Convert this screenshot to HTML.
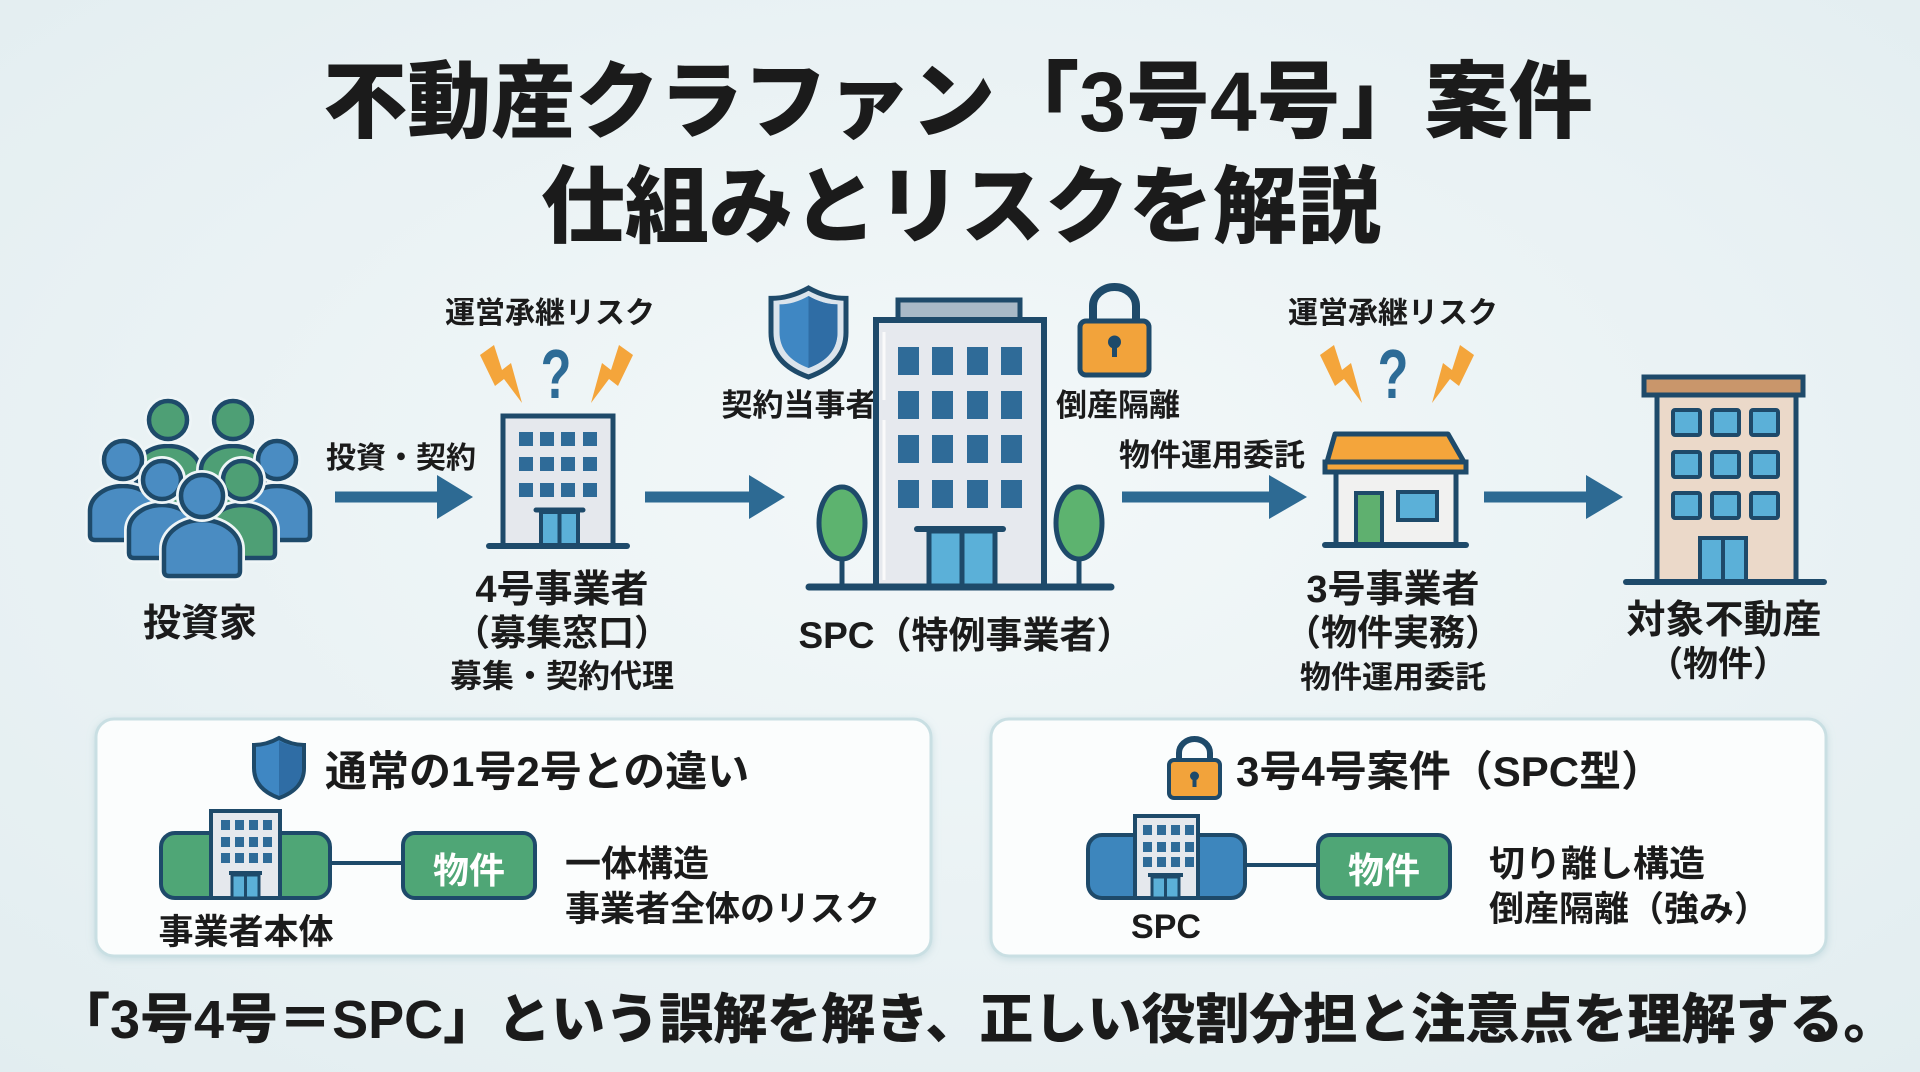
<!DOCTYPE html>
<html><head><meta charset="utf-8"><style>
html,body{margin:0;padding:0;width:1920px;height:1072px;overflow:hidden;background:#e9f2f4}
svg{display:block}
.t{font-family:"Liberation Sans","Noto Sans CJK JP",sans-serif;font-weight:700;fill:#1b1b1b}
.h{font-weight:900}
.m{text-anchor:middle}
</style></head><body>
<svg width="1920" height="1072" viewBox="0 0 1920 1072" xmlns="http://www.w3.org/2000/svg">
<defs>
<radialGradient id="bg" cx="50%" cy="45%" r="75%"><stop offset="0" stop-color="#f3f8f9"/><stop offset="1" stop-color="#e2edf0"/></radialGradient>
<filter id="sh" x="-5%" y="-10%" width="110%" height="125%"><feDropShadow dx="0" dy="2" stdDeviation="4" flood-color="#8fb9c2" flood-opacity="0.35"/></filter>
</defs>
<rect width="1920" height="1072" fill="url(#bg)"/>

<!-- Title -->
<text class="t h m" x="958" y="131" font-size="84">不動産クラファン「3号4号」案件</text>
<text class="t h m" x="961" y="236" font-size="84">仕組みとリスクを解説</text>

<!-- People icon -->
<g stroke-linejoin="round">
 <g><path d="M136,507 L136,470 A32,24 0 0 1 200,470 L200,507 Q200,512 195,512 L141,512 Q136,512 136,507 Z" fill="#4e9f75" stroke="#eef5f7" stroke-width="10"/><path d="M136,507 L136,470 A32,24 0 0 1 200,470 L200,507 Q200,512 195,512 L141,512 Q136,512 136,507 Z" fill="#4e9f75" stroke="#1e4a6a" stroke-width="4.5"/>
 <circle cx="168" cy="420" r="19" fill="#4e9f75" stroke="#eef5f7" stroke-width="10"/><circle cx="168" cy="420" r="19" fill="#4e9f75" stroke="#1e4a6a" stroke-width="4.5"/></g>
 <g><path d="M201,507 L201,470 A32,24 0 0 1 265,470 L265,507 Q265,512 260,512 L206,512 Q201,512 201,507 Z" fill="#4e9f75" stroke="#eef5f7" stroke-width="10"/><path d="M201,507 L201,470 A32,24 0 0 1 265,470 L265,507 Q265,512 260,512 L206,512 Q201,512 201,507 Z" fill="#4e9f75" stroke="#1e4a6a" stroke-width="4.5"/>
 <circle cx="233" cy="420" r="19" fill="#4e9f75" stroke="#eef5f7" stroke-width="10"/><circle cx="233" cy="420" r="19" fill="#4e9f75" stroke="#1e4a6a" stroke-width="4.5"/></g>
 <g><path d="M90,535 L90,511 A33,25 0 0 1 156,511 L156,535 Q156,540 151,540 L95,540 Q90,540 90,535 Z" fill="#4a8cc2" stroke="#eef5f7" stroke-width="10"/><path d="M90,535 L90,511 A33,25 0 0 1 156,511 L156,535 Q156,540 151,540 L95,540 Q90,540 90,535 Z" fill="#4a8cc2" stroke="#1e4a6a" stroke-width="4.5"/>
 <circle cx="123" cy="460" r="19" fill="#4a8cc2" stroke="#eef5f7" stroke-width="10"/><circle cx="123" cy="460" r="19" fill="#4a8cc2" stroke="#1e4a6a" stroke-width="4.5"/></g>
 <g><path d="M244,535 L244,511 A33,25 0 0 1 310,511 L310,535 Q310,540 305,540 L249,540 Q244,540 244,535 Z" fill="#4a8cc2" stroke="#eef5f7" stroke-width="10"/><path d="M244,535 L244,511 A33,25 0 0 1 310,511 L310,535 Q310,540 305,540 L249,540 Q244,540 244,535 Z" fill="#4a8cc2" stroke="#1e4a6a" stroke-width="4.5"/>
 <circle cx="277" cy="460" r="19" fill="#4a8cc2" stroke="#eef5f7" stroke-width="10"/><circle cx="277" cy="460" r="19" fill="#4a8cc2" stroke="#1e4a6a" stroke-width="4.5"/></g>
 <g><path d="M129,553 L129,530 A33,25 0 0 1 195,530 L195,553 Q195,558 190,558 L134,558 Q129,558 129,553 Z" fill="#4a8cc2" stroke="#eef5f7" stroke-width="10"/><path d="M129,553 L129,530 A33,25 0 0 1 195,530 L195,553 Q195,558 190,558 L134,558 Q129,558 129,553 Z" fill="#4a8cc2" stroke="#1e4a6a" stroke-width="4.5"/>
 <circle cx="162" cy="480" r="19" fill="#4a8cc2" stroke="#eef5f7" stroke-width="10"/><circle cx="162" cy="480" r="19" fill="#4a8cc2" stroke="#1e4a6a" stroke-width="4.5"/></g>
 <g><path d="M209,553 L209,530 A33,25 0 0 1 275,530 L275,553 Q275,558 270,558 L214,558 Q209,558 209,553 Z" fill="#4e9f75" stroke="#eef5f7" stroke-width="10"/><path d="M209,553 L209,530 A33,25 0 0 1 275,530 L275,553 Q275,558 270,558 L214,558 Q209,558 209,553 Z" fill="#4e9f75" stroke="#1e4a6a" stroke-width="4.5"/>
 <circle cx="242" cy="480" r="19" fill="#4e9f75" stroke="#eef5f7" stroke-width="10"/><circle cx="242" cy="480" r="19" fill="#4e9f75" stroke="#1e4a6a" stroke-width="4.5"/></g>
 <g><path d="M164,571 L164,549 A38,29 0 0 1 240,549 L240,571 Q240,576 235,576 L169,576 Q164,576 164,571 Z" fill="#4a8cc2" stroke="#eef5f7" stroke-width="10"/><path d="M164,571 L164,549 A38,29 0 0 1 240,549 L240,571 Q240,576 235,576 L169,576 Q164,576 164,571 Z" fill="#4a8cc2" stroke="#1e4a6a" stroke-width="4.5"/>
 <circle cx="202" cy="496" r="21" fill="#4a8cc2" stroke="#eef5f7" stroke-width="10"/><circle cx="202" cy="496" r="21" fill="#4a8cc2" stroke="#1e4a6a" stroke-width="4.5"/></g>
</g>
<text class="t m" x="200" y="636" font-size="38">投資家</text>

<!-- Arrows -->
<g fill="#2d6a93">
 <rect x="335" y="491.5" width="106" height="11"/><polygon points="437,475 473,497 437,519"/>
 <rect x="645" y="491.5" width="108" height="11"/><polygon points="749,475 785,497 749,519"/>
 <rect x="1122" y="491.5" width="151" height="11"/><polygon points="1269,475 1307,497 1269,519"/>
 <rect x="1484" y="491.5" width="106" height="11"/><polygon points="1586,475 1623,497 1586,519"/>
</g>
<text class="t m" x="401" y="468" font-size="30">投資・契約</text>

<!-- 4号 building -->
<text class="t m" x="550" y="323" font-size="30">運営承継リスク</text>
<g fill="#f4a53b">
 <polygon transform="translate(480,343)" points="0,12 14,2 22,27 31,20 42,60 24,36 15,43"/>
 <polygon transform="translate(633,343) scale(-1,1)" points="0,12 14,2 22,27 31,20 42,60 24,36 15,43"/>
</g>
<text class="t m" transform="translate(556,398) scale(0.72,1)" x="0" y="0" font-size="70" style="fill:#2d6b96">?</text>
<rect x="503" y="416" width="110" height="130" fill="#e5e8ed" stroke="#1e4a6a" stroke-width="5"/>
<g fill="#2f6b98">
 <rect x="519" y="432" width="14" height="14"/><rect x="540" y="432" width="14" height="14"/><rect x="561" y="432" width="14" height="14"/><rect x="583" y="432" width="14" height="14"/>
 <rect x="519" y="457" width="14" height="14"/><rect x="540" y="457" width="14" height="14"/><rect x="561" y="457" width="14" height="14"/><rect x="583" y="457" width="14" height="14"/>
 <rect x="519" y="483" width="14" height="14"/><rect x="540" y="483" width="14" height="14"/><rect x="561" y="483" width="14" height="14"/><rect x="583" y="483" width="14" height="14"/>
</g>
<rect x="541" y="512" width="37" height="34" fill="#5bb0d8" stroke="#1e4a6a" stroke-width="4"/>
<line x1="559.5" y1="512" x2="559.5" y2="546" stroke="#1e4a6a" stroke-width="4"/>
<line x1="536" y1="510" x2="583" y2="510" stroke="#1e4a6a" stroke-width="5" stroke-linecap="round"/>
<line x1="489" y1="546" x2="627" y2="546" stroke="#1e4a6a" stroke-width="6" stroke-linecap="round"/>
<text class="t m" x="562" y="602" font-size="38">4号事業者</text>
<text class="t m" x="562" y="645" font-size="36">（募集窓口）</text>
<text class="t m" x="562" y="687" font-size="32">募集・契約代理</text>

<!-- SPC -->
<g>
 <path transform="translate(771,288) scale(0.75,0.742)" d="M50,0 Q25,14 0,14 L0,60 Q0,102 50,120 Q100,102 100,60 L100,14 Q75,14 50,0 Z" fill="#dbe4ec" stroke="#1e4a6a" stroke-width="5" vector-effect="non-scaling-stroke"/>
 <path transform="translate(779.5,296) scale(0.58,0.6)" d="M50,0 Q25,14 0,14 L0,60 Q0,102 50,120 Q100,102 100,60 L100,14 Q75,14 50,0 Z" fill="#3f87c3"/>
 <path transform="translate(779.5,296) scale(0.58,0.6)" d="M50,0 Q75,14 100,14 L100,60 Q100,102 50,120 Z" fill="#2f6da5"/>
</g>
<g>
 <path d="M1093,323 V306 A21.5,19 0 0 1 1136,306 V323" fill="none" stroke="#1e4a6a" stroke-width="8"/>
 <rect x="1080" y="321" width="69" height="54" rx="6" fill="#f2a33b" stroke="#1e4a6a" stroke-width="5"/>
 <circle cx="1114.5" cy="342" r="6.5" fill="#1e4a6a"/><rect x="1112" y="342" width="5" height="15" fill="#1e4a6a"/>
</g>
<text class="t m" x="799" y="416" font-size="31">契約当事者</text>
<text class="t m" x="1118" y="416" font-size="31">倒産隔離</text>
<rect x="898" y="300" width="122" height="20" fill="#a9b9c7" stroke="#1e4a6a" stroke-width="5"/>
<rect x="876" y="320" width="168" height="267" fill="#e6e9ee" stroke="#1e4a6a" stroke-width="6"/>
<line x1="884" y1="332" x2="884" y2="400" stroke="#ffffff" stroke-width="3" opacity="0.8"/>
<line x1="884" y1="420" x2="884" y2="580" stroke="#ffffff" stroke-width="3" opacity="0.8"/>
<g fill="#2f6b98">
 <rect x="898" y="347" width="21" height="28"/><rect x="932" y="347" width="21" height="28"/><rect x="967" y="347" width="21" height="28"/><rect x="1001" y="347" width="21" height="28"/>
 <rect x="898" y="391" width="21" height="28"/><rect x="932" y="391" width="21" height="28"/><rect x="967" y="391" width="21" height="28"/><rect x="1001" y="391" width="21" height="28"/>
 <rect x="898" y="435" width="21" height="28"/><rect x="932" y="435" width="21" height="28"/><rect x="967" y="435" width="21" height="28"/><rect x="1001" y="435" width="21" height="28"/>
 <rect x="898" y="480" width="21" height="28"/><rect x="932" y="480" width="21" height="28"/><rect x="967" y="480" width="21" height="28"/><rect x="1001" y="480" width="21" height="28"/>
</g>
<rect x="929" y="531" width="66" height="56" fill="#5bb0d8" stroke="#1e4a6a" stroke-width="5"/>
<line x1="962" y1="531" x2="962" y2="587" stroke="#1e4a6a" stroke-width="5"/>
<line x1="917" y1="529" x2="1003" y2="529" stroke="#1e4a6a" stroke-width="6" stroke-linecap="round"/>
<line x1="842" y1="555" x2="842" y2="587" stroke="#1e4a6a" stroke-width="5"/>
<ellipse cx="842" cy="523" rx="23" ry="36" fill="#5db36f" stroke="#1e4a6a" stroke-width="5"/>
<line x1="1079" y1="555" x2="1079" y2="587" stroke="#1e4a6a" stroke-width="5"/>
<ellipse cx="1079" cy="523" rx="23" ry="36" fill="#5db36f" stroke="#1e4a6a" stroke-width="5"/>
<line x1="809" y1="587" x2="1111" y2="587" stroke="#1e4a6a" stroke-width="7" stroke-linecap="round"/>
<text class="t m" x="966" y="648" font-size="37">SPC（特例事業者）</text>
<text class="t m" x="1212" y="466" font-size="31">物件運用委託</text>

<!-- 3号 house -->
<text class="t m" x="1393" y="323" font-size="30">運営承継リスク</text>
<g fill="#f4a53b">
 <polygon transform="translate(1320,343)" points="0,12 14,2 22,27 31,20 42,60 24,36 15,43"/>
 <polygon transform="translate(1474,343) scale(-1,1)" points="0,12 14,2 22,27 31,20 42,60 24,36 15,43"/>
</g>
<text class="t m" transform="translate(1393,398) scale(0.72,1)" x="0" y="0" font-size="70" style="fill:#2d6b96">?</text>
<rect x="1336" y="472" width="120" height="73" fill="#f1f1f0" stroke="#1e4a6a" stroke-width="5"/>
<polygon points="1335,434 1448,434 1464,462 1327,462" fill="#f4a53b" stroke="#1e4a6a" stroke-width="5" stroke-linejoin="round"/>
<rect x="1325" y="462" width="141" height="10" fill="#f4a53b" stroke="#1e4a6a" stroke-width="5"/>
<rect x="1356" y="493" width="26" height="52" fill="#5fb06f" stroke="#1e4a6a" stroke-width="4"/>
<rect x="1398" y="492" width="39" height="28" fill="#5bb0d8" stroke="#1e4a6a" stroke-width="4"/>
<line x1="1325" y1="545" x2="1466" y2="545" stroke="#1e4a6a" stroke-width="6" stroke-linecap="round"/>
<text class="t m" x="1393" y="602" font-size="38">3号事業者</text>
<text class="t m" x="1393" y="645" font-size="36">（物件実務）</text>
<text class="t m" x="1393" y="688" font-size="31">物件運用委託</text>

<!-- Property building -->
<rect x="1644" y="377" width="159" height="18" fill="#c9966b" stroke="#1e4a6a" stroke-width="5"/>
<rect x="1657" y="395" width="139" height="187" fill="#ebd9c9" stroke="#1e4a6a" stroke-width="5"/>
<g fill="#5bb0d8" stroke="#1e4a6a" stroke-width="4">
 <rect x="1673" y="410" width="27" height="25" rx="2"/><rect x="1712" y="410" width="27" height="25" rx="2"/><rect x="1751" y="410" width="27" height="25" rx="2"/>
 <rect x="1673" y="452" width="27" height="25" rx="2"/><rect x="1712" y="452" width="27" height="25" rx="2"/><rect x="1751" y="452" width="27" height="25" rx="2"/>
 <rect x="1673" y="493" width="27" height="25" rx="2"/><rect x="1712" y="493" width="27" height="25" rx="2"/><rect x="1751" y="493" width="27" height="25" rx="2"/>
 <rect x="1700" y="538" width="46" height="44"/>
</g>
<line x1="1723" y1="538" x2="1723" y2="582" stroke="#1e4a6a" stroke-width="4"/>
<line x1="1626" y1="582" x2="1824" y2="582" stroke="#1e4a6a" stroke-width="6" stroke-linecap="round"/>
<text class="t m" x="1724" y="633" font-size="39">対象不動産</text>
<text class="t m" x="1718" y="676" font-size="35">（物件）</text>

<!-- Bottom boxes -->
<rect x="96" y="719" width="835" height="237" rx="18" fill="#fbfdfd" stroke="#c9dfe3" stroke-width="3" filter="url(#sh)"/>
<rect x="991" y="719" width="835" height="237" rx="18" fill="#fbfdfd" stroke="#c9dfe3" stroke-width="3" filter="url(#sh)"/>

<!-- Left box -->
<path transform="translate(254,738) scale(0.5,0.5)" d="M50,0 Q25,14 0,14 L0,60 Q0,102 50,120 Q100,102 100,60 L100,14 Q75,14 50,0 Z" fill="#3f87c3" stroke="#1e4a6a" stroke-width="4" vector-effect="non-scaling-stroke"/>
<path transform="translate(254,738) scale(0.5,0.5)" d="M50,6 Q75,18 96,18 L96,60 Q96,100 50,115 Z" fill="#2f6da5"/>
<text class="t" x="325" y="786" font-size="42">通常の1号2号との違い</text>
<rect x="161" y="833" width="169" height="65" rx="14" fill="#4fa676" stroke="#1e4a6a" stroke-width="4"/>
<rect x="211" y="811" width="69" height="87" fill="#e5e8ed" stroke="#1e4a6a" stroke-width="4"/>
<g fill="#2f6b98">
 <rect x="221" y="820" width="9" height="10"/><rect x="235" y="820" width="9" height="10"/><rect x="249" y="820" width="9" height="10"/><rect x="263" y="820" width="9" height="10"/>
 <rect x="221" y="837" width="9" height="10"/><rect x="235" y="837" width="9" height="10"/><rect x="249" y="837" width="9" height="10"/><rect x="263" y="837" width="9" height="10"/>
 <rect x="221" y="853" width="9" height="10"/><rect x="235" y="853" width="9" height="10"/><rect x="249" y="853" width="9" height="10"/><rect x="263" y="853" width="9" height="10"/>
</g>
<rect x="232" y="875" width="27" height="23" fill="#5bb0d8" stroke="#1e4a6a" stroke-width="3"/>
<line x1="245.5" y1="875" x2="245.5" y2="898" stroke="#1e4a6a" stroke-width="3"/>
<line x1="229" y1="873" x2="262" y2="873" stroke="#1e4a6a" stroke-width="4"/>
<line x1="330" y1="863" x2="403" y2="863" stroke="#1e4a6a" stroke-width="4"/>
<rect x="403" y="833" width="132" height="65" rx="12" fill="#4fa676" stroke="#1e4a6a" stroke-width="4"/>
<text class="t m" x="469" y="883" font-size="36" style="fill:#ffffff">物件</text>
<text class="t m" x="246" y="944" font-size="35">事業者本体</text>
<text class="t" x="565" y="876" font-size="36">一体構造</text>
<text class="t" x="565" y="921" font-size="35">事業者全体のリスク</text>

<!-- Right box -->
<path d="M1179,762 V753 A15.5,14 0 0 1 1210,753 V762" fill="none" stroke="#1e4a6a" stroke-width="6"/>
<rect x="1169" y="760" width="51" height="38" rx="5" fill="#f2a33b" stroke="#1e4a6a" stroke-width="4"/>
<circle cx="1194.5" cy="776" r="4.5" fill="#1e4a6a"/><rect x="1192.5" y="776" width="4" height="11" fill="#1e4a6a"/>
<text class="t" x="1236" y="786" font-size="42">3号4号案件（SPC型）</text>
<rect x="1088" y="835" width="157" height="63" rx="14" fill="#3d86bd" stroke="#1e4a6a" stroke-width="4"/>
<rect x="1135" y="816" width="63" height="82" fill="#e5e8ed" stroke="#1e4a6a" stroke-width="4"/>
<g fill="#2f6b98">
 <rect x="1143" y="825" width="9" height="10"/><rect x="1157" y="825" width="9" height="10"/><rect x="1171" y="825" width="9" height="10"/><rect x="1185" y="825" width="9" height="10"/>
 <rect x="1143" y="842" width="9" height="10"/><rect x="1157" y="842" width="9" height="10"/><rect x="1171" y="842" width="9" height="10"/><rect x="1185" y="842" width="9" height="10"/>
 <rect x="1143" y="857" width="9" height="10"/><rect x="1157" y="857" width="9" height="10"/><rect x="1171" y="857" width="9" height="10"/><rect x="1185" y="857" width="9" height="10"/>
</g>
<rect x="1152" y="877" width="27" height="21" fill="#5bb0d8" stroke="#1e4a6a" stroke-width="3"/>
<line x1="1165.5" y1="877" x2="1165.5" y2="898" stroke="#1e4a6a" stroke-width="3"/>
<line x1="1148" y1="875" x2="1183" y2="875" stroke="#1e4a6a" stroke-width="4"/>
<line x1="1245" y1="865" x2="1318" y2="865" stroke="#1e4a6a" stroke-width="4"/>
<rect x="1318" y="835" width="132" height="63" rx="12" fill="#4fa676" stroke="#1e4a6a" stroke-width="4"/>
<text class="t m" x="1384" y="883" font-size="36" style="fill:#ffffff">物件</text>
<text class="t m" x="1166" y="938" font-size="34">SPC</text>
<text class="t" x="1489" y="876" font-size="36">切り離し構造</text>
<text class="t" x="1489" y="921" font-size="35">倒産隔離（強み）</text>

<!-- Caption -->
<text class="t h" x="56" y="1038" font-size="54">「3号4号＝SPC」という誤解を解き、正しい役割分担と注意点を理解する。</text>
</svg>
</body></html>
